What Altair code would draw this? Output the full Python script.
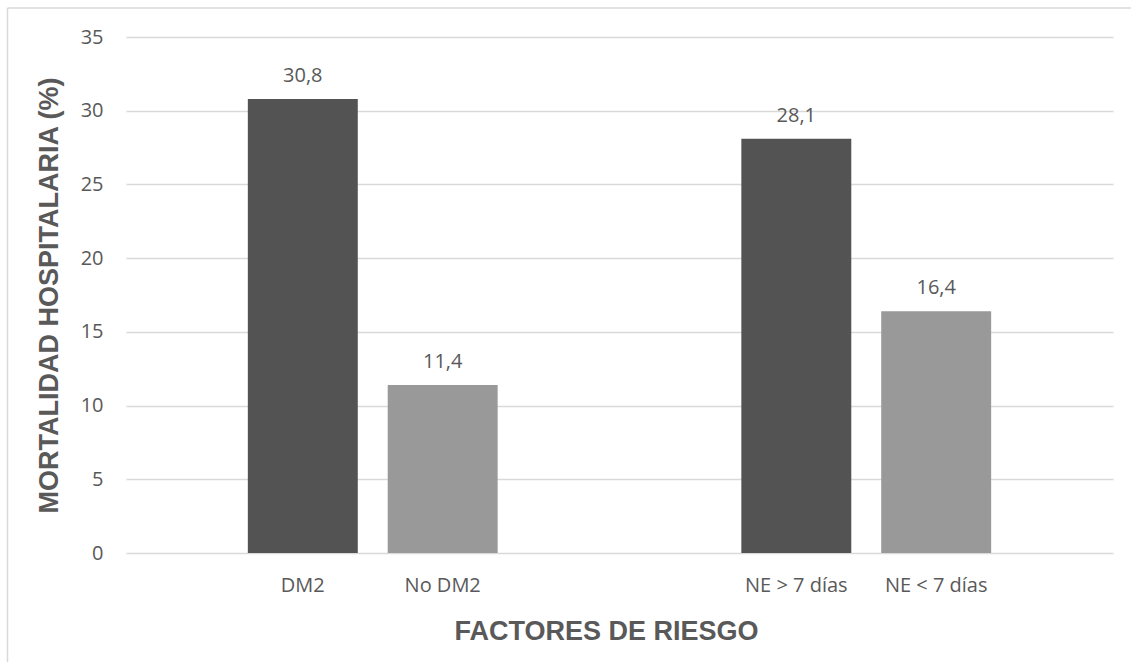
import altair as alt
import pandas as pd

groups = ["G1", "G1", "G2", "G2"]
categories = ["DM2", "No DM2", "NE > 7 días", "NE < 7 días"]
series = ["a", "b", "a", "b"]
values = [30.8, 11.4, 28.1, 16.4]
value_labels = [f"{v:.1f}".replace(".", ",") for v in values]
y_ticks = [0, 5, 10, 15, 20, 25, 30, 35]

df = pd.DataFrame({
    "grupo": groups,
    "categoria": categories,
    "serie": series,
    "valor": values,
    "etiqueta": value_labels,
})

W, H = 987, 516
TXT = "#595959"
GRID = "#d9d9d9"

x_enc = alt.X(
    "grupo:N",
    sort=["G1", "G2"],
    scale=alt.Scale(paddingInner=0, paddingOuter=0),
    axis=alt.Axis(
        labels=False, ticks=False, domain=False, grid=False,
        title="FACTORES DE RIESGO",
        titleFont="Liberation Sans", titleFontSize=27, titleFontWeight="bold",
        titleColor=TXT, titleX=480, titleY=86, titleAlign="center",
        titleBaseline="alphabetic",
    ),
)
xo_enc = alt.XOffset(
    "serie:N", sort=["a", "b"],
    scale=alt.Scale(paddingInner=0.214, paddingOuter=0.871),
)
y_enc = alt.Y(
    "valor:Q",
    scale=alt.Scale(domain=[0, 35], nice=False),
    axis=alt.Axis(
        values=y_ticks, ticks=False, domain=False, grid=True,
        gridColor=GRID, gridWidth=1.5,
        labelFont="Open Sans", labelFontSize=20, labelColor=TXT, labelPadding=23,
        title="MORTALIDAD HOSPITALARIA (%)",
        titleFont="Liberation Sans", titleFontSize=27, titleFontWeight="bold",
        titleColor=TXT, titleX=-69, titleY=258, titleAngle=-90,
        titleAlign="center", titleBaseline="alphabetic",
    ),
)

base = alt.Chart(df)

bars = base.mark_bar().encode(
    x=x_enc,
    xOffset=xo_enc,
    y=y_enc,
    color=alt.Color("serie:N", scale=alt.Scale(domain=["a", "b"], range=["#535353", "#999999"]), legend=None),
)

vals = base.mark_text(
    font="Open Sans", fontSize=20, color=TXT, baseline="alphabetic", dy=-17
).encode(x=x_enc, xOffset=xo_enc, y=alt.Y("valor:Q"), text="etiqueta:N")

cats = base.mark_text(
    font="Open Sans", fontSize=20, color=TXT, baseline="alphabetic"
).encode(x=x_enc, xOffset=xo_enc, y=alt.value(H + 39), text="categoria:N")

frame_left = alt.Chart(pd.DataFrame({"k": [0]})).mark_rule(color=GRID, strokeWidth=1.5).encode(
    x=alt.value(-118.5), y=alt.value(-29), y2=alt.value(H + 200)
)
frame_top = alt.Chart(pd.DataFrame({"k": [0]})).mark_rule(color=GRID, strokeWidth=1.5).encode(
    x=alt.value(-118.5), x2=alt.value(W + 100), y=alt.value(-29)
)

chart = alt.layer(bars, vals, cats, frame_left, frame_top).properties(
    width=W, height=H,
    autosize=alt.AutoSizeParams(type="none"),
    padding={"left": 126, "top": 37, "right": 18, "bottom": 109},
    background="white",
).configure_view(stroke=None)

chart.save("out.html", embed_options={"renderer": "svg", "actions": False})
